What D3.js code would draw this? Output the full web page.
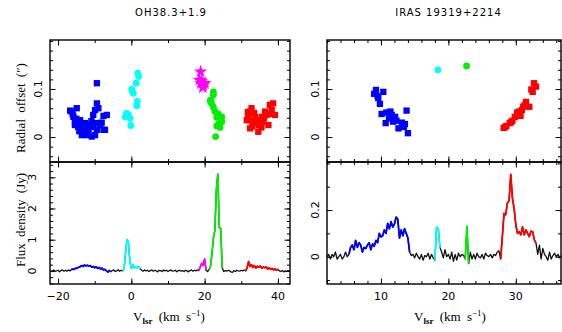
<!DOCTYPE html>
<html>
<head>
<meta charset="utf-8">
<script src="https://cdn.jsdelivr.net/npm/d3@7"></script>
<style>
  body { margin: 0; background: #fff; }
  svg { display: block; }
</style>
</head>
<body>
<svg id="chart" width="562" height="332"></svg>
<script>
// ---- data ----
const groups = ['blue', 'cyan', 'magenta', 'green', 'red'];

// OH38.3+1.9 maser spots: [Vlsr, radial offset (")]
const ohBlue = [[-9.4,0.112],[-9.4,0.070],[-9.9,0.056],[-10.4,0.046],[-6.7,0.046],[-7.6,0.044],[-14.9,0.060],
  [-16.3,0.053],[-16.7,0.055],[-15.8,0.042],[-15.4,0.032],[-14.0,0.035],[-12.6,0.029],[-11.3,0.025],[-9.4,0.029],
  [-8.5,0.025],[-7.2,0.015],[-13.1,0.015],[-12.2,0.004],[-10.8,0.001],[-9.9,0.004],[-11.7,0.015],[-15.4,0.025],
  [-14.5,0.021],[-10.4,0.021],[-9.4,0.015],[-13.5,0.004],[-7.6,0.015],[-13.1,0.008],[-12.0,0.020],[-13.8,0.027],
  [-10.9,0.033],[-15.0,0.038],[-11.8,0.009],[-8.1,0.030],[-9.0,0.060],[-16.0,0.047],[-14.2,0.012]];
const ohCyan = [[1.75,0.133],[2.0,0.126],[1.3,0.112],[0.1,0.099],[0.55,0.091],[1.65,0.074],[1.45,0.065],
  [-0.8,0.046],[-1.7,0.042],[-0.35,0.039],[-0.15,0.024],[-1.3,0.049],[0.3,0.095],[-1.0,0.043]];
const ohMagenta = [[18.9,0.136],[19.2,0.117],[19.65,0.108],[18.55,0.119],[20.1,0.112],[19.5,0.103],[19.0,0.112]];
const ohGreen = [[22.4,0.094],[22.4,0.088],[21.5,0.075],[21.9,0.070],[22.4,0.062],[22.8,0.053],[23.7,0.048],
  [24.7,0.042],[23.3,0.041],[24.7,0.032],[23.3,0.023],[24.2,0.020],[23.0,0.001],[21.7,0.077],[24.0,0.043],[23.9,0.028]];
const ohRed = [[32.4,0.053],[32.8,0.060],[31.9,0.046],[33.75,0.042],[32.4,0.035],[33.3,0.029],[32.4,0.018],
  [34.65,0.011],[35.1,0.035],[36.5,0.053],[36.9,0.046],[37.4,0.025],[37.8,0.067],[38.7,0.070],[39.2,0.046],
  [38.3,0.056],[36.0,0.032],[34.2,0.032],[35.6,0.042],[31.5,0.035],[33.5,0.050],[34.8,0.025],[36.2,0.040],
  [38.0,0.048],[31.8,0.052],[33.0,0.022],[35.5,0.020]];

// IRAS 19319+2214 maser spots
const irBlue = [[9.26,0.098],[9.0,0.090],[10.35,0.094],[9.6,0.081],[9.85,0.069],[10.1,0.048],[10.8,0.051],
  [11.4,0.053],[10.7,0.029],[11.2,0.039],[12.1,0.042],[12.3,0.034],[11.8,0.032],[12.6,0.018],[13.1,0.030],
  [13.4,0.021],[13.8,0.055],[14.0,0.008],[13.55,0.027],[11.6,0.046],[9.5,0.085]];
const irCyan = [[18.44,0.140]];
const irGreen = [[22.7,0.148]];
const irRed = [[28.2,0.019],[28.6,0.023],[29.1,0.029],[29.5,0.034],[29.85,0.042],[30.2,0.051],[30.5,0.053],
  [30.7,0.044],[31.1,0.063],[31.5,0.073],[32.0,0.063],[32.3,0.099],[32.7,0.112],[33.0,0.105],[32.5,0.094],
  [28.4,0.021],[30.9,0.056],[31.3,0.066],[29.3,0.031]];

// spectra: first channel, channel width (km/s), flux (Jy)
const ohSpecStart = -22, ohSpecStep = 0.4;
const ohSpecFlux = [
  0.01,-0.02,0.03,-0.01,0.00,0.02,-0.03,0.01,0.03,-0.01,
  0.02,-0.01,0.03,0.00,0.04,0.06,0.05,0.09,0.08,0.12,
  0.13,0.17,0.14,0.19,0.16,0.18,0.15,0.17,0.12,0.14,
  0.10,0.13,0.08,0.11,0.06,0.09,0.03,0.05,0.00,-0.04,
  0.02,-0.03,0.01,0.03,-0.02,0.00,0.04,-0.01,0.02,0.00,
  0.06,0.55,1.00,0.92,0.30,0.08,0.20,0.09,0.14,0.10,
  0.13,0.07,0.02,-0.01,0.03,0.00,0.02,-0.02,0.01,0.03,
  -0.01,0.02,0.00,-0.03,0.02,0.01,-0.02,0.03,0.00,0.02,
  -0.02,0.01,0.03,-0.01,0.00,0.02,-0.03,0.01,0.02,-0.01,
  0.01,-0.02,0.02,0.00,-0.03,0.01,0.03,-0.01,0.02,0.00,
  0.03,0.01,0.12,0.24,0.18,0.38,0.02,-0.02,0.04,0.15,
  0.55,1.05,1.30,2.60,3.10,1.40,1.35,0.10,-0.02,0.01,
  -0.01,0.02,0.00,-0.03,-0.05,0.01,-0.02,0.02,0.00,-0.01,
  0.02,0.00,0.03,0.00,0.10,0.30,0.14,0.20,0.11,0.17,
  0.09,0.15,0.12,0.16,0.08,0.13,0.10,0.12,0.06,0.10,
  0.05,0.08,0.03,0.07,0.02,0.05,0.00,-0.02,0.01,-0.03,
  0.00,-0.02,0.01,0.00];
// velocity ranges coloured per group
const ohSegments = [[-16.4,-6.0],[-2.4,2.4],[18.4,20.4],[21.2,24.8],[31.2,40.0]];

const irSpecStart = 2, irSpecStep = 0.25;
const irSpecFlux = [
  0.00,0.01,-0.01,0.01,0.00,0.02,-0.01,0.00,
  0.01,-0.01,0.00,0.02,0.00,0.01,0.04,0.05,
  0.03,0.07,0.04,0.06,0.05,0.02,0.04,0.035,
  0.05,0.06,0.03,0.055,0.045,0.07,0.06,0.10,
  0.085,0.09,0.115,0.10,0.143,0.12,0.15,0.127,
  0.14,0.17,0.16,0.08,0.115,0.09,0.12,0.10,
  0.08,0.02,0.005,0.01,-0.005,0.015,0.0,-0.01,
  0.01,-0.015,0.005,0.0,0.015,-0.01,0.01,-0.005,
  -0.015,0.127,0.12,0.04,0.02,-0.005,0.03,0.0,
  0.01,-0.01,0.02,-0.02,0.01,-0.015,0.015,0.0,
  0.01,0.005,-0.01,0.13,-0.03,0.02,-0.01,0.01,
  -0.01,0.015,0.0,-0.005,0.01,-0.01,0.015,0.005,
  0.0,0.01,-0.005,0.01,0.005,0.02,0.025,-0.01,
  0.086,0.186,0.18,0.23,0.24,0.353,0.25,0.207,
  0.136,0.10,0.107,0.094,0.128,0.094,0.115,0.10,
  0.086,0.11,0.107,0.072,0.057,0.01,0.05,-0.01,
  0.036,0.01,0.0,-0.015,0.02,-0.01,0.005,0.015,
  0.0,0.01,-0.005,0.005];
const irSegments = [[5.25,14.25],[18.0,18.75],null,[22.5,23.0],[27.75,33.0]];

// tick values
const ohXTicks = [-20, 0, 20, 40];
const irXTicks = [10, 20, 30];
const offTicks = [0, 0.1];
const ohFluxTicks = [0, 1, 2, 3];
const irFluxTicks = [0, 0.2];

// ---- styles ----
const colors = { blue: '#0000ff', cyan: '#00ffff', magenta: '#ff00ff', green: '#00ee00', red: '#ff0000' };
const sans = 'DejaVu Sans', serif = 'Liberation Serif';

const svg = d3.select('#chart');

// scales
const xOH = d3.scaleLinear().domain([-22.2, 43.3]).range([50, 290]);
const xIR = d3.scaleLinear().domain([2, 36.7]).range([327, 561]);
const yOff = d3.scaleLinear().domain([-0.052, 0.202]).range([162, 40]);
const yOHf = d3.scaleLinear().domain([-0.42, 3.49]).range([284, 162]);
const yIRf = d3.scaleLinear().domain([-0.117, 0.406]).range([284, 162]);

function ticksBetween(scale, step) {
  const [a, b] = scale.domain();
  return d3.range(Math.ceil(a / step) * step, b, step).map(v => +v.toFixed(6));
}

// frame with inward ticks on all four sides
function frame(x, y, xMajor, xMinor, yMajor, yMinor) {
  const [x0, x1] = x.range(), [y0, y1] = y.range();
  const g = svg.append('g');
  const put = (axis, tx, ty) => {
    g.append('g').attr('transform', `translate(${tx},${ty})`).call(axis)
      .call(s => s.select('.domain').remove())
      .selectAll('line').attr('stroke', '#000').attr('stroke-width', 1);
  };
  [[xMajor, 5.5], [xMinor, 3]].forEach(([vals, len]) => {
    put(d3.axisBottom(x).tickValues(vals).tickSize(-len).tickFormat(''), 0, y0);
    put(d3.axisTop(x).tickValues(vals).tickSize(-len).tickFormat(''), 0, y1);
  });
  [[yMajor, 5.5], [yMinor, 3]].forEach(([vals, len]) => {
    put(d3.axisLeft(y).tickValues(vals).tickSize(-len).tickFormat(''), x0, 0);
    put(d3.axisRight(y).tickValues(vals).tickSize(-len).tickFormat(''), x1, 0);
  });
  g.append('rect')
    .attr('x', x0).attr('y', y1).attr('width', x1 - x0).attr('height', y0 - y1)
    .attr('fill', 'none').attr('stroke', '#000').attr('stroke-width', 1.4);
}

frame(xOH, yOff, ohXTicks, ticksBetween(xOH, 10), offTicks, ticksBetween(yOff, 0.02));
frame(xOH, yOHf, ohXTicks, ticksBetween(xOH, 10), ohFluxTicks, ticksBetween(yOHf, 0.2));
frame(xIR, yOff, irXTicks, ticksBetween(xIR, 2), offTicks, ticksBetween(yOff, 0.02));
frame(xIR, yIRf, irXTicks, ticksBetween(xIR, 2), irFluxTicks, ticksBetween(yIRf, 0.1));

// scatter markers
const shapes = {
  square: d3.symbol().type(d3.symbolSquare).size(40),
  circle: d3.symbol().type(d3.symbolCircle).size(36),
  star: d3.symbol().type(d3.symbolStar).size(55)
};
function spots(data, x, shape, color) {
  svg.append('g').selectAll('path')
    .data(data)
    .enter()
    .append('path')
    .attr('transform', d => `translate(${x(d[0])},${yOff(d[1])})`)
    .attr('d', shapes[shape])
    .attr('fill', color);
}
spots(ohBlue, xOH, 'square', colors.blue);
spots(ohCyan, xOH, 'circle', colors.cyan);
spots(ohMagenta, xOH, 'star', colors.magenta);
spots(ohGreen, xOH, 'circle', colors.green);
spots(ohRed, xOH, 'square', colors.red);
spots(irBlue, xIR, 'square', colors.blue);
spots(irCyan, xIR, 'circle', colors.cyan);
spots(irGreen, xIR, 'circle', colors.green);
spots(irRed, xIR, 'square', colors.red);

// spectra: black over full range, coloured stretches on top
function spectrum(start, step, flux, segments, x, y) {
  const pts = flux.map((f, i) => ({ v: start + i * step, f }));
  const line = d3.line().x(d => x(d.v)).y(d => y(d.f));
  const g = svg.append('g').attr('fill', 'none').attr('stroke-linejoin', 'round');
  g.append('path').attr('d', line(pts)).attr('stroke', '#111').attr('stroke-width', 1.3);
  segments.forEach((seg, i) => {
    if (!seg) return;
    const part = pts.filter(d => d.v >= seg[0] - 1e-6 && d.v <= seg[1] + 1e-6);
    g.append('path').attr('d', line(part)).attr('stroke', colors[groups[i]]).attr('stroke-width', 1.8);
  });
}
spectrum(ohSpecStart, ohSpecStep, ohSpecFlux, ohSegments, xOH, yOHf);
spectrum(irSpecStart, irSpecStep, irSpecFlux, irSegments, xIR, yIRf);

// tick labels
const fmt = d => d < 0 ? '\u2212' + Math.abs(d) : String(d);
function xLabels(vals, x) {
  svg.append('g').selectAll('text').data(vals).enter().append('text')
    .attr('x', d => x(d)).attr('y', 299.5)
    .attr('text-anchor', 'middle').attr('font-family', sans).attr('font-size', 11)
    .text(fmt);
}
function yLabels(vals, y, bx) {
  svg.append('g').selectAll('text').data(vals).enter().append('text')
    .attr('transform', d => `translate(${bx},${y(d)}) rotate(-90)`)
    .attr('text-anchor', 'middle').attr('font-family', sans).attr('font-size', 11)
    .text(fmt);
}
xLabels(ohXTicks, xOH);
xLabels(irXTicks, xIR);
yLabels(offTicks, yOff, 41.5);
yLabels(ohFluxTicks, yOHf, 36);
yLabels(offTicks, yOff, 318.5);
yLabels(irFluxTicks, yIRf, 318.5);

// titles
[['OH38.3+1.9', 171], ['IRAS 19319+2214', 448.5]].forEach(([t, cx]) => {
  svg.append('text').attr('x', cx).attr('y', 15.7)
    .attr('text-anchor', 'middle').attr('font-family', sans).attr('font-size', 10)
    .attr('letter-spacing', 1).text(t);
});

// axis titles
function vLabel(cx) {
  const t = svg.append('text').attr('x', cx).attr('y', 321)
    .attr('text-anchor', 'middle').attr('font-family', serif).attr('font-size', 13)
    .attr('word-spacing', 3);
  t.append('tspan').text('V');
  t.append('tspan').attr('font-size', 9).attr('font-weight', 'bold').attr('dy', 3).text('lsr');
  t.append('tspan').attr('dy', -3).text(' (km s');
  t.append('tspan').attr('font-size', 9).attr('dy', -5).text('\u22121');
  t.append('tspan').attr('dy', 5).text(')');
}
vLabel(169);
vLabel(450);

svg.append('text').attr('transform', 'translate(25,108) rotate(-90)')
  .attr('text-anchor', 'middle').attr('font-family', serif).attr('font-size', 13)
  .attr('word-spacing', 3).text('Radial offset (\u2033)');
svg.append('text').attr('transform', 'translate(25,220) rotate(-90)')
  .attr('text-anchor', 'middle').attr('font-family', serif).attr('font-size', 13)
  .attr('word-spacing', 3).text('Flux density (Jy)');
</script>
</body>
</html>
